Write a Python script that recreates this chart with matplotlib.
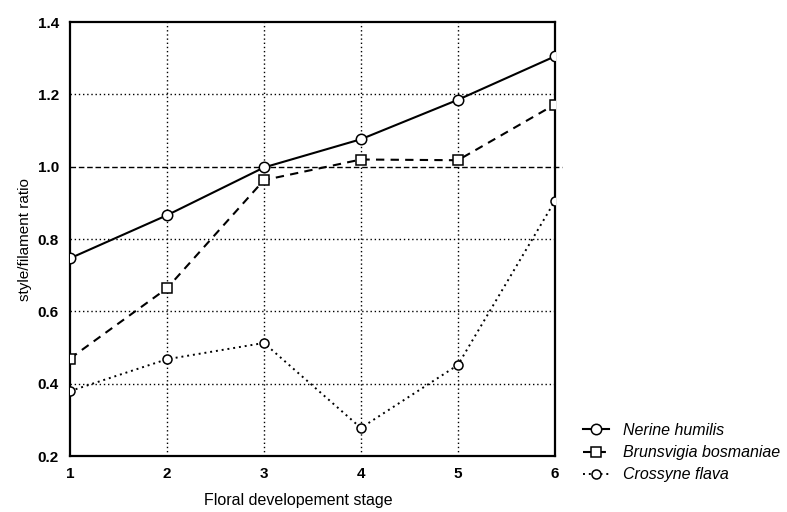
import matplotlib.pyplot as plt

plt.rcParams['font.family'] = ['Liberation Sans', 'DejaVu Sans']

stages = [1, 2, 3, 4, 5, 6]
nerine = [0.747, 0.866, 0.998, 1.076, 1.185, 1.305]
brunsvigia = [0.47, 0.664, 0.963, 1.02, 1.018, 1.172]
crossyne = [0.38, 0.468, 0.513, 0.278, 0.452, 0.905]
names = ['Nerine humilis', 'Brunsvigia bosmaniae', 'Crossyne flava']
yticks = [0.2, 0.4, 0.6, 0.8, 1.0, 1.2, 1.4]

fig = plt.figure(figsize=(7.87, 5.12), dpi=100)
ax = fig.add_axes([0.089, 0.109, 0.616, 0.848])

# dotted grid (1.0 is drawn as the dashed reference line instead)
for x in stages[1:-1]:
    ax.axvline(x, color='black', linestyle=(0, (1, 2)), lw=1, zorder=1)
for y in yticks[1:-1]:
    if y != 1.0:
        ax.axhline(y, color='black', linestyle=(0, (1, 2)), lw=1, zorder=1)
ax.plot([1, 6.07], [1.0, 1.0], color='black', linestyle=(0, (4, 2)), lw=1,
        clip_on=False, zorder=1)

ax.plot(stages, nerine, color='black', lw=1.5, marker='o', ms=7.5,
        mfc='white', mec='black', mew=1.1, label=names[0], zorder=3)
ax.plot(stages, brunsvigia, color='black', lw=1.5, linestyle=(0, (4, 3)),
        marker='s', ms=7.5, mfc='white', mec='black', mew=1.1,
        label=names[1], zorder=3)
ax.plot(stages, crossyne, color='black', lw=1.4, linestyle=(0, (1, 2)),
        marker='o', ms=6.5, mfc='white', mec='black', mew=1.1,
        label=names[2], zorder=3)

ax.set_xlim(1, 6)
ax.set_ylim(0.2, 1.4)
ax.set_xticks(stages)
ax.set_yticks(yticks)
ax.set_yticklabels(['%.1f' % v for v in yticks])
ax.tick_params(length=0, labelsize=11, pad=8)
for lab in ax.get_xticklabels() + ax.get_yticklabels():
    lab.set_fontweight('bold')
for s in ax.spines.values():
    s.set_linewidth(1.6)

ax.set_xlabel('Floral developement stage', fontsize=11.5, labelpad=11)
ax.xaxis.set_label_coords(0.47, -0.085)
ax.set_ylabel('style/filament ratio', fontsize=11, labelpad=4)

leg = ax.legend(loc='lower left', bbox_to_anchor=(1.045, -0.075), frameon=False,
                fontsize=11.5, handlelength=1.6, handletextpad=0.9,
                labelspacing=0.45, borderaxespad=0)
for t in leg.get_texts():
    t.set_fontstyle('italic')

fig.savefig('out.png', dpi=100)
